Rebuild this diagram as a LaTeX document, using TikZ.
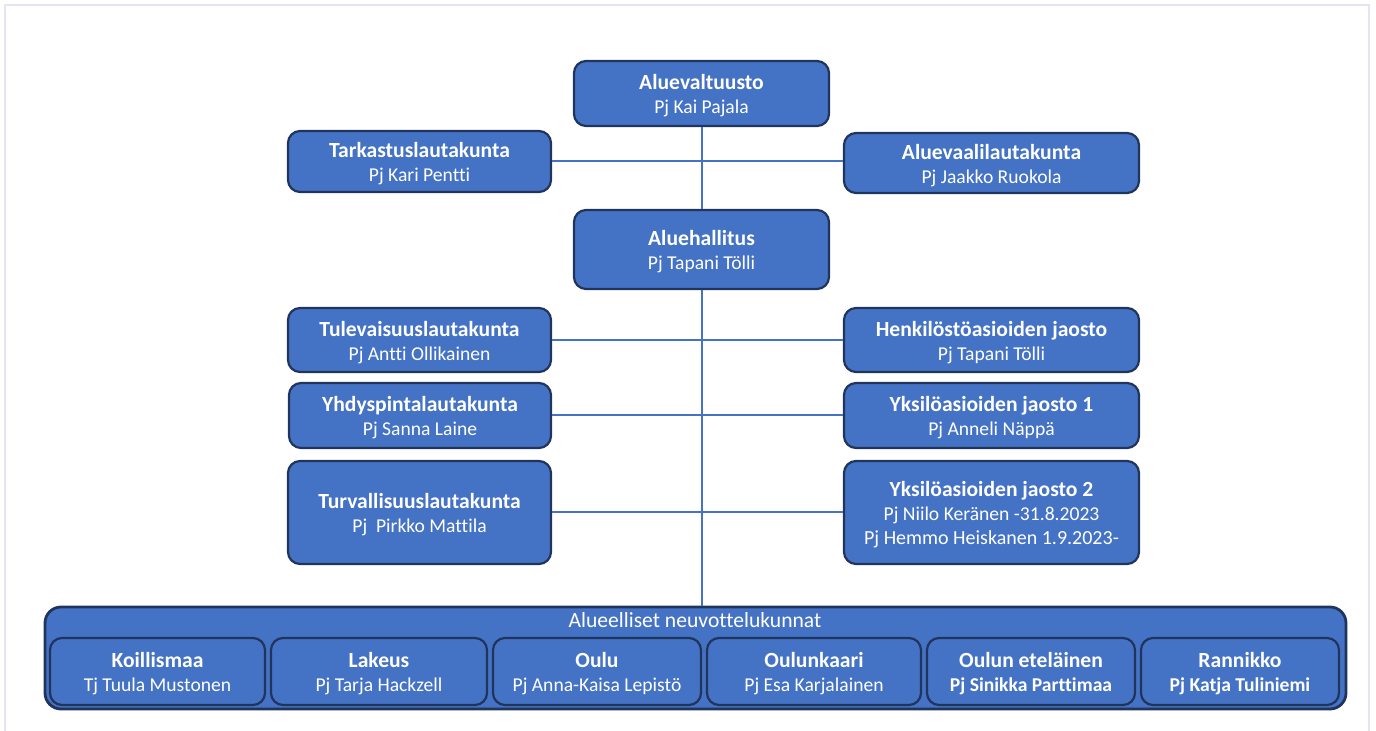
\documentclass[tikz,border=0pt]{standalone}
\usepackage{fontspec}
\setmainfont[Ligatures=CommonOff]{Carlito}

\definecolor{elinsininen}{RGB}{68,114,196}
\definecolor{elinreuna}{RGB}{32,52,92}
\definecolor{kehys}{RGB}{228,228,244}

\newcommand{\elin}[2]{\fontsize{10.8}{12.5}\selectfont\bfseries\rule{0pt}{10pt}#1\\\fontsize{9.8}{12.5}\selectfont\mdseries #2}

\tikzset{every picture/.style={line width=0.75pt}}
\tikzset{
  elinlaatikko/.style={draw=elinreuna, fill=elinsininen, line width=1.1pt, rounded corners=6pt,
    text=white, align=center, inner sep=0pt},
  yhteys/.style={draw=elinsininen, line width=1pt}
}

\begin{document}
\begin{tikzpicture}[x=0.5pt,y=0.5pt,yscale=-1,xscale=1]
\useasboundingbox (0,0) rectangle (1376,731);

%Frame
\draw [kehys, line width=1.2pt] (5,731) -- (5,5) -- (1369,5) -- (1369,731);

%Shape: Rounded Rect
\node [elinlaatikko, minimum width=127.5pt, minimum height=32.5pt] (valtuusto) at (701.5,93.5) {\elin{Aluevaltuusto}{Pj Kai Pajala}};
\node [elinlaatikko, minimum width=131.5pt, minimum height=30.5pt] (tarkastus) at (419.5,161.5) {\elin{Tarkastuslautakunta}{Pj Kari Pentti}};
\node [elinlaatikko, minimum width=147.5pt, minimum height=30pt] (vaali) at (991.5,163) {\elin{Aluevaalilautakunta}{Pj Jaakko Ruokola}};
\node [elinlaatikko, minimum width=127.5pt, minimum height=39.5pt] (hallitus) at (701.5,249.5) {\elin{Aluehallitus}{Pj Tapani Tölli}};

\node [elinlaatikko, minimum width=131.5pt, minimum height=32pt] (tulevaisuus) at (419.5,340) {\elin{Tulevaisuuslautakunta}{Pj Antti Ollikainen}};
\node [elinlaatikko, minimum width=147.5pt, minimum height=32pt] (henkilosto) at (991.5,340) {\elin{Henkilöstöasioiden jaosto}{Pj Tapani Tölli}};
\node [elinlaatikko, minimum width=131pt, minimum height=32.5pt] (yhdyspinta) at (420,415.5) {\elin{Yhdyspintalautakunta}{Pj Sanna Laine}};
\node [elinlaatikko, minimum width=147.5pt, minimum height=32.5pt] (yksilo1) at (991.5,415.5) {\elin{Yksilöasioiden jaosto 1}{Pj Anneli Näppä}};
\node [elinlaatikko, minimum width=131.5pt, minimum height=51.5pt] (turvallisuus) at (419.5,512.5) {\elin{Turvallisuuslautakunta}{Pj\ \ Pirkko Mattila}};
\node [elinlaatikko, minimum width=147.5pt, minimum height=51.5pt] (yksilo2) at (991.5,512.5) {\elin{Yksilöasioiden jaosto 2}{Pj Niilo Keränen -31.8.2023\\Pj Hemmo Heiskanen 1.9.2023-}};

%Shape: Container
\node [elinlaatikko, rounded corners=8pt, line width=1.4pt, minimum width=650.5pt, minimum height=51pt] (neuvottelu) at (695.5,658) {};
\node [text=white, font=\fontsize{10.8}{12}\selectfont, inner sep=0pt] (neuvotteluotsikko) at (695,620) {Alueelliset neuvottelukunnat};

\node [elinlaatikko, minimum width=107.5pt, minimum height=33.5pt] (koillismaa) at (157.5,671.5) {\elin{Koillismaa}{Tj Tuula Mustonen}};
\node [elinlaatikko, minimum width=108pt, minimum height=33.5pt] (lakeus) at (379,671.5) {\elin{Lakeus}{Pj Tarja Hackzell}};
\node [elinlaatikko, minimum width=104pt, minimum height=33.5pt] (oulu) at (597,671.5) {\elin{Oulu}{Pj Anna-Kaisa Lepistö}};
\node [elinlaatikko, minimum width=107pt, minimum height=33.5pt] (oulunkaari) at (814,671.5) {\elin{Oulunkaari}{Pj Esa Karjalainen}};
\node [elinlaatikko, minimum width=104pt, minimum height=33.5pt] (etelainen) at (1031,671.5) {\elin{Oulun eteläinen}{\bfseries Pj Sinikka Parttimaa}};
\node [elinlaatikko, minimum width=99pt, minimum height=33.5pt] (rannikko) at (1240,671.5) {\elin{Rannikko}{\bfseries Pj Katja Tuliniemi}};

%Straight Lines
\draw [yhteys] (valtuusto.south) -- (hallitus.north);
\draw [yhteys] (hallitus.south) -- (hallitus.south |- neuvottelu.north);
\draw [yhteys] (tarkastus.east) -- (tarkastus.east -| vaali.west);
\draw [yhteys] (tulevaisuus.east) -- (tulevaisuus.east -| henkilosto.west);
\draw [yhteys] (yhdyspinta.east) -- (yhdyspinta.east -| yksilo1.west);
\draw [yhteys] (turvallisuus.east) -- (turvallisuus.east -| yksilo2.west);
\end{tikzpicture}
\end{document}
